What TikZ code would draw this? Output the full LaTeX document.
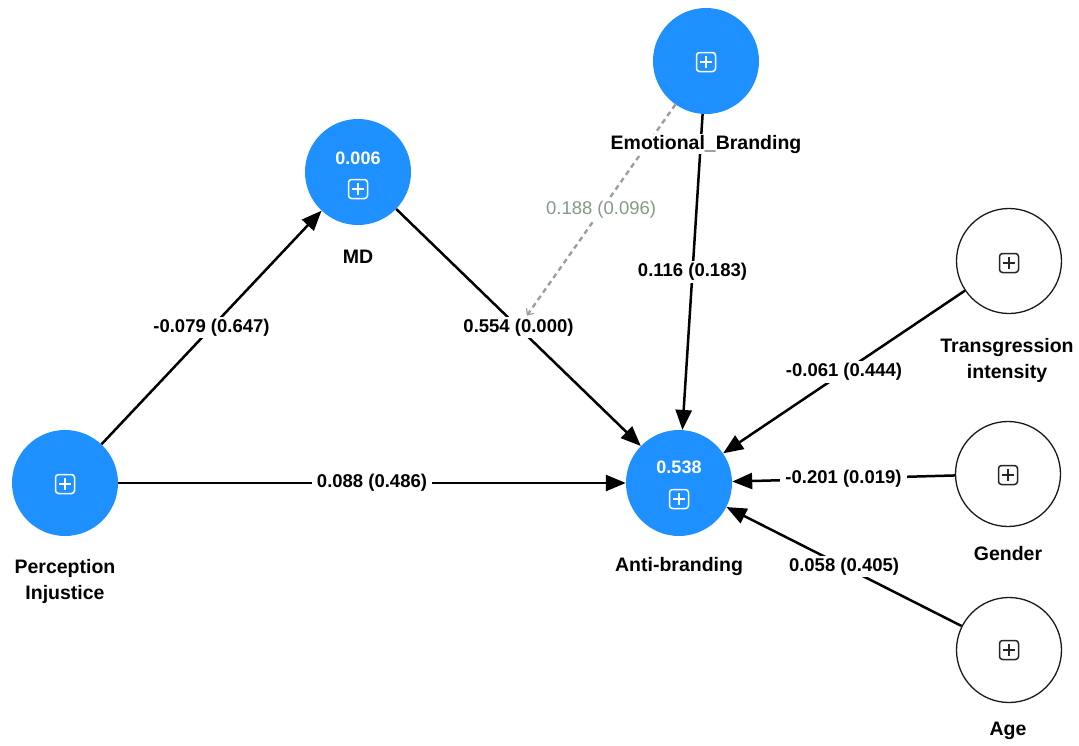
\documentclass[tikz,border=0pt]{standalone}
\usepackage{fontspec}
\setmainfont{Liberation Sans}
\usetikzlibrary{arrows.meta}
\definecolor{lvblue}{RGB}{30,144,255}
\definecolor{modline}{RGB}{158,158,158}
\definecolor{modtext}{RGB}{136,152,136}

\tikzset{
  pics/plusbox/.style={code={
    \draw[#1,line width=1.5pt,rounded corners=3pt] (-9.5,-9.5) rectangle (9.5,9.5);
    \draw[#1,line width=1.5pt] (-6,0) -- (6,0) (0,-6) -- (0,6);
  }},
}

\begin{document}
\begin{tikzpicture}[x=1pt,y=-1pt,
  latent/.style={circle,fill=lvblue,minimum size=106pt,inner sep=0pt},
  manifest/.style={circle,draw=black!90,line width=1.3pt,fill=white,minimum size=105pt,inner sep=0pt},
  vname/.style={font=\bfseries\fontsize{19.5}{26}\selectfont,align=center,fill=white,inner sep=1pt},
  r2/.style={font=\bfseries\fontsize{18}{22}\selectfont,text=white,anchor=base},
  effect/.style={line width=2.5pt,-{Triangle[length=20pt,width=16pt]}},
  coef/.style={font=\bfseries\fontsize{18.5}{22}\selectfont,fill=white,inner xsep=5pt,inner ysep=2pt},
  modpath/.style={modline,line width=2.4pt,dash pattern=on 5pt off 4pt,
    -{Straight Barb[length=5pt,width=9pt,line width=1.2pt]}},
  modcoef/.style={font=\fontsize{18.5}{22}\selectfont,text=modtext,fill=white,inner xsep=4pt,inner ysep=2pt},
]
\useasboundingbox (0,0) rectangle (1079,745);

% constructs
\node[latent]   (PI) at (65,483)   {};
\node[latent]   (MD) at (358,172)  {};
\node[latent]   (EB) at (706,61)   {};
\node[latent]   (AB) at (679,483)  {};
\node[manifest] (TI) at (1009,261) {};
\node[manifest] (GE) at (1008,474) {};
\node[manifest] (AG) at (1009,650) {};

% R-squared values and expand icons
\node[r2] (MDr) at (358,164) {0.006};
\node[r2] (ABr) at (679,473) {0.538};
\pic at (65,484)   {plusbox=white};
\pic at (358,189)  {plusbox=white};
\pic at (706,62)   {plusbox=white};
\pic at (679,499)  {plusbox=white};
\pic at (1009,263) {plusbox=black!85};
\pic at (1008,475) {plusbox=black!85};
\pic at (1009,650) {plusbox=black!85};

% structural paths
\draw[effect] (PI) -- node[coef] (cPIMD) {-0.079 (0.647)} (MD);
\draw[effect] (MD) -- node[coef] (cMDAB) {0.554 (0.000)} (AB);
\draw[effect] (PI) -- node[coef] (cPIAB) {0.088 (0.486)} (AB);
\draw[effect] (EB) -- node[coef] (cEBAB) {0.116 (0.183)} (AB);
\draw[effect] (TI) -- node[coef] (cTIAB) {-0.061 (0.444)} (AB);
\draw[effect] (GE) -- node[coef] (cGEAB) {-0.201 (0.019)} (AB);
\draw[effect] (AG) -- node[coef] (cAGAB) {0.058 (0.405)} (AB);

% moderating effect on MD -> Anti-branding
\draw[modpath] (EB) -- node[modcoef] (cMod) {0.188 (0.096)} (cMDAB);

% construct names
\node[vname] (PIn) at (65,581)   {Perception\\Injustice};
\node[vname] (MDn) at (358,257)  {MD};
\node[vname] (EBn) at (706,144)  {Emotional\_Branding};
\node[vname] (ABn) at (679,566)  {Anti-branding};
\node[vname] (TIn) at (1007,360) {Transgression\\intensity};
\node[vname] (GEn) at (1008,554) {Gender};
\node[vname] (AGn) at (1008,731) {Age};
\end{tikzpicture}
\end{document}
